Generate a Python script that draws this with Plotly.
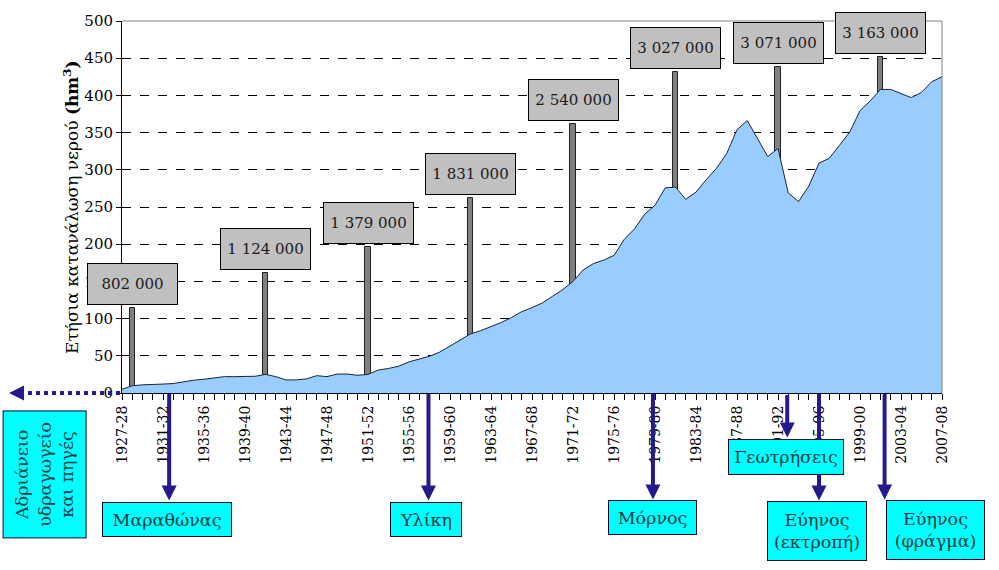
import plotly.graph_objects as go

# ---------------- data ----------------
years = [f"{y}-{str(y + 1)[-2:]}" for y in range(1927, 2008)]
consumption = [
    5, 9.7, 11, 11, 12, 12.7, 15.4, 17.2, 18.5, 20.3,
    22, 22, 22, 22.5, 25, 22, 17.6, 17.6, 19, 23.3,
    22, 25.5, 25.5, 23.8, 25, 30.9, 33, 36, 41.9, 45.9,
    49.4, 55, 63, 71.5, 79.4, 83.8, 89, 94.8, 101.4, 109.4,
    114.7, 121, 130, 139, 150, 165.5, 174, 178.7, 185, 206.5,
    220.6, 240.5, 252.4, 275.8, 276.7, 260.3, 270, 286.8, 302, 322,
    353.9, 366.2, 342, 317.8, 328.7, 269, 257.3, 278, 309, 315.5,
    333, 350.8, 379.5, 392.7, 408, 408, 402.5, 397, 404, 418.4,
    425,
]
census_years = ["1928-29", "1941-42", "1951-52", "1961-62", "1971-72", "1981-82", "1991-92", "2001-02"]
census_bar = [114, 161, 196, 262, 362, 432, 438, 451]
population_labels = ["802 000", "1 124 000", "1 379 000", "1 831 000",
                     "2 540 000", "3 027 000", "3 071 000", "3 163 000"]
tick_labels = years[::4]

source_labels = ["Μαραθώνας", "Υλίκη", "Μόρνος", "Γεωτρήσεις", "Εύηνος<br>(εκτροπή)", "Εύηνος<br>(φράγμα)"]
source_pos = [4.6, 29.9, 51.8, 64.9, 68.0, 74.4]

# ---------------- geometry helpers ----------------
W, H = 999, 570
L, R, T, B = 122, 57, 16, 177
PW, PH = W - L - R, H - T - B
xs = list(range(len(years)))
census_x = [years.index(c) for c in census_years]


def py(p):  # pixel y -> paper y
    return (H - B - p) / PH


def px(p):  # pixel x -> paper x
    return (p - L) / PW


SERIF = "DejaVu Serif"
NAVY = "#241a8e"

fig = go.Figure()
fig.add_trace(go.Scatter(
    x=xs, y=consumption, mode="lines", fill="tozeroy",
    fillcolor="#99ccff", line=dict(color="#1a2436", width=1), hoverinfo="skip",
))
fig.add_trace(go.Bar(
    x=census_x, y=census_bar, width=0.5,
    marker=dict(color="#808080", line=dict(color="#222222", width=1)),
))

annotations = []
for xi, v, lab in zip(census_x, census_bar, population_labels):
    annotations.append(dict(
        x=xi, y=v, xref="x", yref="y", text=lab, showarrow=False,
        yanchor="bottom", yshift=3, width=87, height=38, borderpad=1,
        bgcolor="#c0c0c0", bordercolor="#000000", borderwidth=1,
        font=dict(family=SERIF, size=15, color="#1a1a1a"),
    ))

tips = [502, 502, 501, 438, 502, 501]
for xs_, tip in zip(source_pos, tips):
    annotations.append(dict(
        x=xs_, y=py(tip), xref="x", yref="paper", text="", showarrow=True,
        ax=0, ay=-(tip - (H - B) - 1), arrowhead=2, arrowsize=0.75,
        arrowwidth=4, arrowcolor=NAVY,
    ))

annotations.append(dict(
    x=px(9), y=0, xref="paper", yref="paper", text="", showarrow=True,
    ax=14, ay=0, arrowhead=2, arrowsize=0.75, arrowwidth=4, arrowcolor=NAVY,
))

boxes = [(167, 521, 130, 35), (426, 521, 72, 35), (652, 519, 89, 35),
         (786, 458, 116, 36), (817, 533, 100, 60), (935, 532, 99, 60)]
for lab, (cx, cy, bw, bh) in zip(source_labels, boxes):
    annotations.append(dict(
        x=px(cx), y=py(cy), xref="paper", yref="paper", text=lab, showarrow=False,
        xanchor="center", yanchor="middle", width=bw - 2, height=bh - 2, borderpad=0,
        bgcolor="#00ffff", bordercolor="#0a0a30", borderwidth=1,
        font=dict(family=SERIF, size=17.5, color="#0b3d45"),
    ))

annotations.append(dict(
    x=px(45), y=py(475.5), xref="paper", yref="paper",
    text="Αδριάνειο<br>υδραγωγείο<br>και πηγές", textangle=-90, showarrow=False,
    xanchor="center", yanchor="middle", width=126, height=82, borderpad=0,
    bgcolor="#00ffff", bordercolor="#0a0a30", borderwidth=1,
    font=dict(family=SERIF, size=17.5, color="#0b3d45"),
))

annotations.append(dict(
    x=px(58), y=0.5, xref="paper", yref="paper", textangle=-90, showarrow=False,
    text="Ετήσια κατανάλωση νερού <b>(hm<sup>3</sup>)</b>",
    font=dict(family=SERIF, size=17, color="#000000"),
))

shapes = [
    dict(type="line", xref="paper", yref="paper", x0=0, x1=1, y0=1, y1=1,
         line=dict(color="#808080", width=1)),
    dict(type="line", xref="paper", yref="paper", x0=1, x1=1, y0=0, y1=1,
         line=dict(color="#808080", width=1)),
    dict(type="line", xref="paper", yref="paper", x0=px(20), x1=0, y0=0, y1=0,
         line=dict(color=NAVY, width=4, dash="dot")),
]

fig.update_layout(
    width=W, height=H, margin=dict(l=L, r=R, t=T, b=B),
    paper_bgcolor="white", plot_bgcolor="white", showlegend=False,
    bargap=0, annotations=annotations, shapes=shapes,
    font=dict(family=SERIF, color="#000000"),
)
fig.update_xaxes(
    range=[0, len(years) - 1], tickmode="array", tickvals=xs[::4], ticktext=tick_labels,
    tickangle=-90, tickfont=dict(family=SERIF, size=14, color="#000000"),
    ticks="outside", ticklen=6, tickcolor="#000000", showgrid=False, zeroline=False,
    showline=True, linecolor="#000000", linewidth=1,
    minor=dict(tickmode="linear", tick0=0, dtick=1, ticks="outside", ticklen=6,
               tickcolor="#000000", showgrid=False),
)
fig.update_yaxes(
    range=[0, 500], dtick=50, tickfont=dict(family=SERIF, size=15, color="#000000"),
    ticks="outside", ticklen=5, tickcolor="#000000",
    showgrid=True, gridcolor="#000000", griddash="dash", gridwidth=1,
    zeroline=False, showline=True, linecolor="#000000", linewidth=1,
)

fig.write_html("out.html")
